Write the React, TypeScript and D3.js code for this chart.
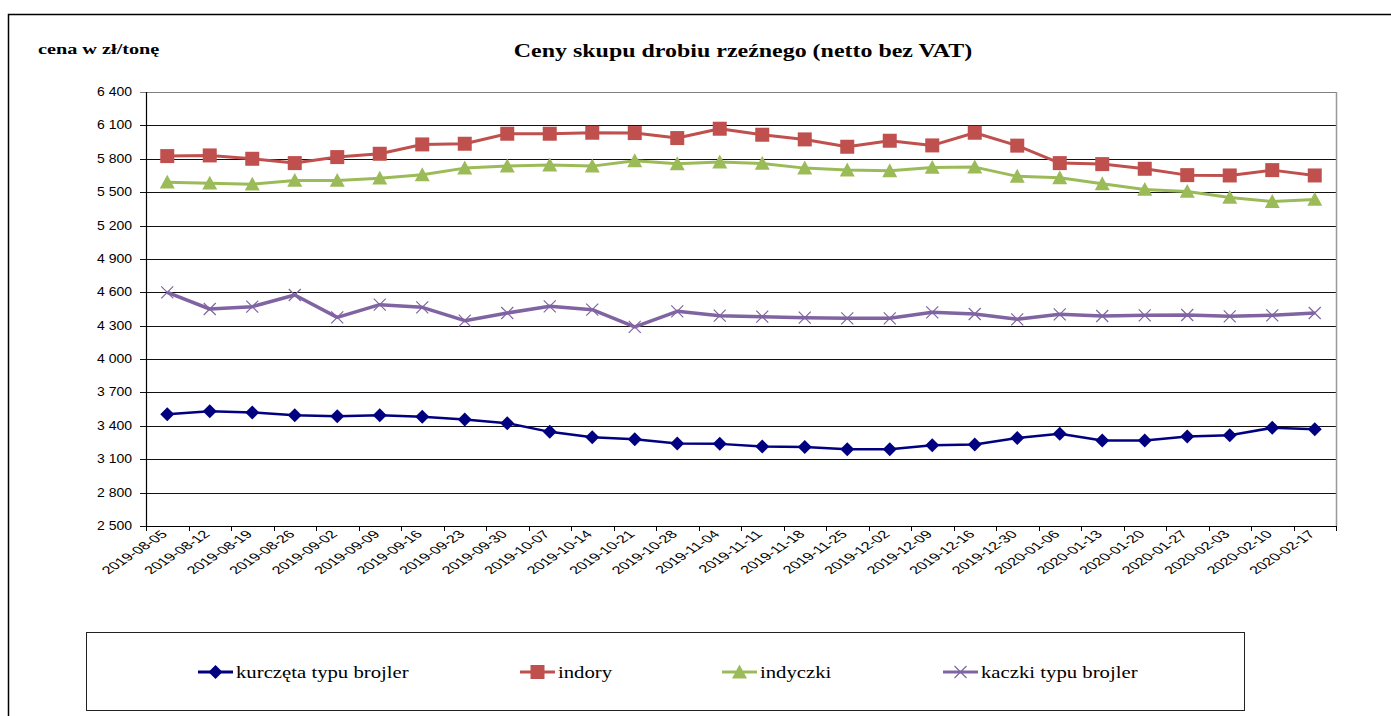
import * as d3 from 'd3';

const dates = [
  '2019-08-05', '2019-08-12', '2019-08-19', '2019-08-26', '2019-09-02', '2019-09-09', '2019-09-16',
  '2019-09-23', '2019-09-30', '2019-10-07', '2019-10-14', '2019-10-21', '2019-10-28', '2019-11-04',
  '2019-11-11', '2019-11-18', '2019-11-25', '2019-12-02', '2019-12-09', '2019-12-16', '2019-12-30',
  '2020-01-06', '2020-01-13', '2020-01-20', '2020-01-27', '2020-02-03', '2020-02-10', '2020-02-17',
];

const kurczeta = [
  3505, 3532, 3520, 3496, 3487, 3496, 3481, 3457, 3424, 3346, 3298, 3280, 3241, 3238,
  3214, 3211, 3190, 3190, 3226, 3232, 3290, 3328, 3268, 3268, 3304, 3316, 3382, 3370,
];
const indory = [
  5824, 5830, 5800, 5761, 5815, 5845, 5929, 5935, 6025, 6025, 6034, 6031, 5986, 6070,
  6016, 5974, 5908, 5962, 5920, 6034, 5918, 5761, 5752, 5710, 5653, 5650, 5698, 5650,
];
const indyczki = [
  5590, 5581, 5572, 5605, 5605, 5626, 5656, 5716, 5734, 5743, 5734, 5782, 5755, 5770,
  5758, 5716, 5698, 5692, 5722, 5725, 5642, 5629, 5575, 5524, 5506, 5452, 5416, 5434,
];
const kaczki = [
  4600, 4450, 4471, 4576, 4375, 4489, 4465, 4345, 4414, 4474, 4444, 4290, 4429, 4390,
  4381, 4372, 4366, 4366, 4420, 4405, 4357, 4402, 4387, 4393, 4396, 4384, 4393, 4414,
];

const yTicks = [2500, 2800, 3100, 3400, 3700, 4000, 4300, 4600, 4900, 5200, 5500, 5800, 6100, 6400];

const series = [
  { name: 'kurczęta typu brojler', values: kurczeta, color: '#000080', width: 2.5, marker: 'diamond', lx: 198 },
  { name: 'indory', values: indory, color: '#C0504D', width: 3, marker: 'square', lx: 520 },
  { name: 'indyczki', values: indyczki, color: '#9BBB59', width: 3, marker: 'triangle', lx: 722 },
  { name: 'kaczki typu brojler', values: kaczki, color: '#8064A2', width: 3.5, marker: 'x', lx: 943 },
];

const W = 1391;
const H = 716;
const left = 146;
const right = 1336;
const top = 92;
const bottom = 526;

// the source picture is stretched sideways, text included
const SX = 1.22;

const fmt = (v: number) => d3.format(',')(v).replace(',', ' ');

function Marker({ type, x, y, color }: { type: string; x: number; y: number; color: string }) {
  if (type === 'diamond') {
    const s = 7;
    return <path d={`M${x},${y - s}L${x + s},${y}L${x},${y + s}L${x - s},${y}Z`} fill={color} />;
  }
  if (type === 'square') {
    const s = 7;
    return <rect x={x - s} y={y - s} width={s * 2} height={s * 2} fill={color} />;
  }
  if (type === 'triangle') {
    const s = 7.5;
    return <path d={`M${x},${y - s}L${x + s},${y + s * 0.85}L${x - s},${y + s * 0.85}Z`} fill={color} />;
  }
  const s = 6;
  return (
    <path
      d={`M${x - s},${y - s}L${x + s},${y + s}M${x - s},${y + s}L${x + s},${y - s}`}
      stroke={color}
      strokeWidth={1.2}
      fill="none"
    />
  );
}

export default function App() {
  const x = d3.scaleBand<string>().domain(dates).range([left, right]);
  const y = d3.scaleLinear().domain([2500, 6400]).range([bottom, top]);
  const cx = (d: string) => (x(d) as number) + x.bandwidth() / 2;

  const line = d3
    .line<number>()
    .x((_, i) => cx(dates[i]))
    .y((v) => y(v));

  const bounds = dates.map((d) => x(d) as number).concat([right]);

  return (
    <svg width={W} height={H} style={{ position: 'absolute', left: 0, top: 0, background: '#fff' }}>
      {/* outer frame */}
      <rect x={8.5} y={14.5} width={W + 20} height={H + 20} fill="none" stroke="#000" strokeWidth={1.5} />

      <g transform={`translate(38,54) scale(1.35,1)`}>
        <text fontFamily="Liberation Serif, serif" fontWeight="bold" fontSize={15}>
          cena w zł/tonę
        </text>
      </g>
      <g transform={`translate(743,57) scale(1.26,1)`}>
        <text textAnchor="middle" fontFamily="Liberation Serif, serif" fontWeight="bold" fontSize={19}>
          Ceny skupu drobiu rzeźnego (netto bez VAT)
        </text>
      </g>

      {/* grid */}
      {yTicks.map((t) => (
        <g key={t}>
          <line
            x1={left - 6}
            x2={right}
            y1={Math.round(y(t)) + 0.5}
            y2={Math.round(y(t)) + 0.5}
            stroke={t === 6400 ? '#808080' : '#111'}
            strokeWidth={1}
          />
          <g transform={`translate(132,${y(t) + 4}) scale(1.12,1)`}>
            <text textAnchor="end" fontFamily="Liberation Sans, Arial, sans-serif" fontSize={12.5}>
              {fmt(t)}
            </text>
          </g>
        </g>
      ))}
      <line x1={right + 0.5} x2={right + 0.5} y1={top} y2={bottom} stroke="#999" strokeWidth={1.5} />
      <line x1={left + 0.5} x2={left + 0.5} y1={top} y2={bottom} stroke="#000" strokeWidth={1.2} />
      <line x1={left} x2={right} y1={bottom + 0.5} y2={bottom + 0.5} stroke="#000" strokeWidth={1.2} />
      {bounds.map((b, i) => (
        <line key={i} x1={Math.round(b) + 0.5} x2={Math.round(b) + 0.5} y1={bottom} y2={bottom + 5} stroke="#000" />
      ))}
      {dates.map((d) => (
        <text
          key={d}
          transform={`translate(${cx(d) + 1},${bottom + 9}) scale(1.5,1) rotate(-45)`}
          textAnchor="end"
          fontFamily="Liberation Sans, Arial, sans-serif"
          fontSize={11}
        >
          {d}
        </text>
      ))}

      {/* series */}
      {series.map((s) => (
        <g key={s.name}>
          <path d={line(s.values) || ''} fill="none" stroke={s.color} strokeWidth={s.width} strokeLinejoin="round" />
          {s.values.map((v, i) => (
            <Marker key={i} type={s.marker} x={cx(dates[i])} y={y(v)} color={s.color} />
          ))}
        </g>
      ))}

      {/* legend */}
      <rect x={86.5} y={632.5} width={1158} height={78} fill="#fff" stroke="#222" strokeWidth={1} />
      {series.map((s) => (
        <g key={s.name}>
          <line x1={s.lx} x2={s.lx + 35} y1={672} y2={672} stroke={s.color} strokeWidth={3} />
          <Marker type={s.marker} x={s.lx + 17.5} y={672} color={s.color} />
          <g transform={`translate(${s.lx + 38},678) scale(${SX},1)`}>
            <text fontFamily="Liberation Serif, serif" fontSize={17}>
              {s.name}
            </text>
          </g>
        </g>
      ))}
    </svg>
  );
}
